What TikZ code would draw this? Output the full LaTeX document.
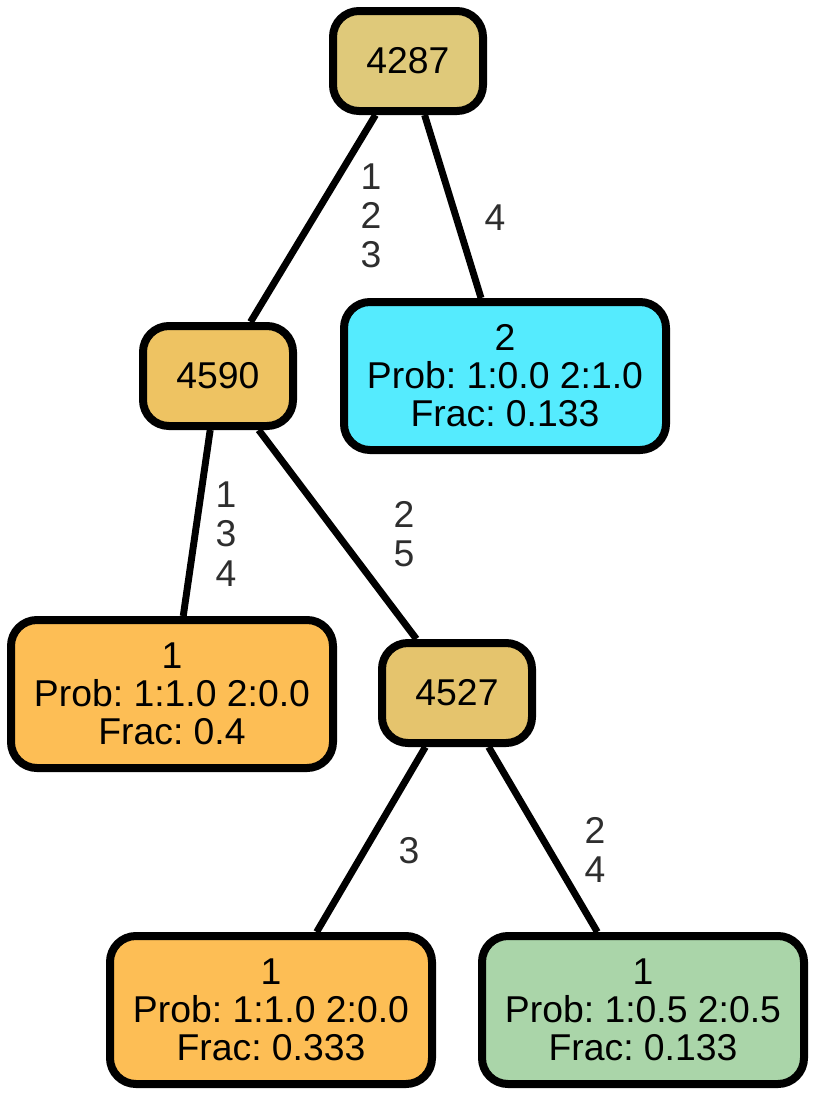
\documentclass[tikz,border=0pt]{standalone}
\usepackage{fontspec}
\setmainfont{Liberation Sans}
\frenchspacing
\begin{document}
\begin{tikzpicture}[x=0.75pt,y=-0.75pt,
  tnode/.style={draw=black,line width=6pt,rounded corners=19.5pt,align=center,
    font=\fontsize{28pt}{28.5pt}\selectfont\frenchspacing,inner sep=0pt},
  small/.style={tnode,minimum width=112.5pt,minimum height=75pt},
  leaf/.style={tnode,minimum width=241.5pt,minimum height=111pt},
  edge/.style={line width=5.2pt,draw=black},
  elab/.style={align=center,text=black!82,font=\fontsize{28pt}{29.5pt}\selectfont,inner sep=0pt}]
\definecolor{cA}{HTML}{DFC97A}
\definecolor{cB}{HTML}{EEC362}
\definecolor{cC}{HTML}{55EBFE}
\definecolor{cD}{HTML}{FDBE55}
\definecolor{cE}{HTML}{E5C46D}
\definecolor{cF}{HTML}{AAD5A9}
\useasboundingbox (0,0) rectangle (817,1096);
\node[small,fill=cA] (n4287) at (408,61) {4287};
\node[small,fill=cB] (n4590) at (218,376) {4590};
\node[leaf,fill=cC] (l2) at (505,376) {2\\Prob: 1:0.0 2:1.0\\Frac: 0.133};
\node[leaf,fill=cD] (l1a) at (172,694) {1\\Prob: 1:1.0 2:0.0\\Frac: 0.4};
\node[small,fill=cE] (n4527) at (457,693) {4527};
\node[leaf,fill=cD] (l1b) at (271,1010) {1\\Prob: 1:1.0 2:0.0\\Frac: 0.333};
\node[leaf,fill=cF] (l1c) at (643,1010) {1\\Prob: 1:0.5 2:0.5\\Frac: 0.133};
\draw[edge] (n4287) -- (n4590);
\draw[edge] (n4287) -- (l2);
\draw[edge] (n4590) -- (l1a);
\draw[edge] (n4590) -- (n4527);
\draw[edge] (n4527) -- (l1b);
\draw[edge] (n4527) -- (l1c);
\node[elab] (e1) at (371,216) {1\\2\\3};
\node[elab] (e2) at (495,218) {4};
\node[elab] (e3) at (226,534) {1\\3\\4};
\node[elab] (e4) at (404,534) {2\\5};
\node[elab] (e5) at (409,851) {3};
\node[elab] (e6) at (595,850) {2\\4};
\end{tikzpicture}
\end{document}
